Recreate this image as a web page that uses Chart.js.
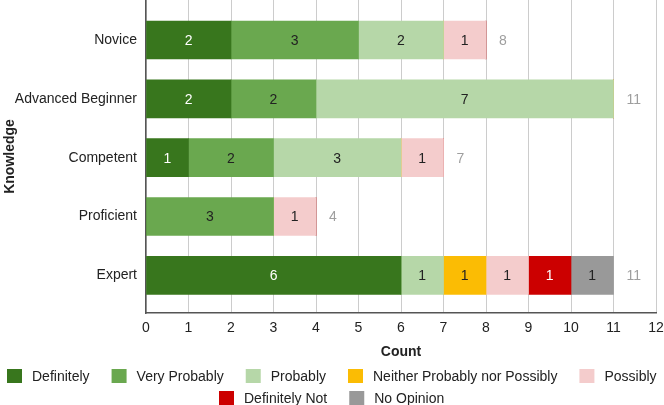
<!DOCTYPE html>
<html>
<head>
<meta charset="utf-8">
<script src="https://cdn.jsdelivr.net/npm/chart.js@4"></script>
<style>
  html, body { margin: 0; padding: 0; background: #fff; }
  #wrap { width: 664px; height: 405px; }
</style>
</head>
<body>
<div id="wrap"><canvas id="knowledgeChart" width="664" height="405"></canvas></div>
<script>
const categories = ['Novice', 'Advanced Beginner', 'Competent', 'Proficient', 'Expert'];

const definitely = [2, 2, 1, 0, 6];
const veryProbably = [3, 2, 2, 3, 0];
const probably = [2, 7, 3, 0, 1];
const neither = [0, 0, 0, 0, 1];
const possibly = [1, 0, 1, 1, 1];
const definitelyNot = [0, 0, 0, 0, 1];
const noOpinion = [0, 0, 0, 0, 1];

const xTicks = [0, 1, 2, 3, 4, 5, 6, 7, 8, 9, 10, 11, 12];

const FONT = '"Liberation Sans", Arial, sans-serif';

function toPoints(values) {
    return values.map((v, i) => ({ x: v, y: i }));
}

const series = [
    { label: 'Definitely', values: definitely, color: '#38761d', text: '#ffffff' },
    { label: 'Very Probably', values: veryProbably, color: '#6aa84f', text: '#222222' },
    { label: 'Probably', values: probably, color: '#b6d7a8', text: '#222222' },
    { label: 'Neither Probably nor Possibly', values: neither, color: '#fbbc04', text: '#222222' },
    { label: 'Possibly', values: possibly, color: '#f4cccc', text: '#222222' },
    { label: 'Definitely Not', values: definitelyNot, color: '#cc0000', text: '#ffffff' },
    { label: 'No Opinion', values: noOpinion, color: '#999999', text: '#222222' }
];

// segment values and totals
const barLabels = {
    id: 'barLabels',
    afterDatasetsDraw(chart) {
        const ctx = chart.ctx;
        ctx.save();
        ctx.font = '14px ' + FONT;
        ctx.textAlign = 'center';
        ctx.textBaseline = 'middle';
        chart.data.datasets.forEach((ds, d) => {
            const meta = chart.getDatasetMeta(d);
            meta.data.forEach((el, i) => {
                const v = series[d].values[i];
                if (!v) return;
                ctx.fillStyle = series[d].text;
                ctx.fillText(String(v), (el.x + el.base) / 2, el.y + 1);
            });
        });
        ctx.textAlign = 'left';
        ctx.fillStyle = '#9e9e9e';
        categories.forEach((c, i) => {
            const total = series.reduce((s, sr) => s + sr.values[i], 0);
            const x = chart.scales.x.getPixelForValue(total);
            const y = chart.scales.y.getPixelForValue(i);
            ctx.fillText(String(total), x + 13, y + 1);
        });
        ctx.restore();
    }
};

// google-style legend, rows centred under the chart
const rowLegend = {
    id: 'rowLegend',
    afterDraw(chart) {
        const ctx = chart.ctx;
        ctx.save();
        ctx.font = '14px ' + FONT;
        ctx.textBaseline = 'middle';
        ctx.textAlign = 'left';
        const gap = 22, box = 15, textOff = 25;
        const items = chart.data.datasets.map(ds => ({
            label: ds.label,
            color: ds.backgroundColor,
            w: textOff + ctx.measureText(ds.label).width
        }));
        const rows = [[]];
        let rowW = 0;
        items.forEach(it => {
            const add = (rows[rows.length - 1].length ? gap : 0) + it.w;
            if (rowW + add > chart.width - 6 && rows[rows.length - 1].length) {
                rows.push([it]);
                rowW = it.w;
            } else {
                rows[rows.length - 1].push(it);
                rowW += add;
            }
        });
        let y = 376;
        rows.forEach(row => {
            const total = row.reduce((s, it) => s + it.w, 0) + gap * (row.length - 1);
            let x = Math.round((chart.width - total) / 2);
            row.forEach(it => {
                ctx.fillStyle = it.color;
                ctx.fillRect(x, y - 7, box, 14);
                ctx.fillStyle = '#222222';
                ctx.fillText(it.label, x + textOff, y + 1);
                x += it.w + gap;
            });
            y += 22;
        });
        ctx.restore();
    }
};

const ctx = document.getElementById('knowledgeChart').getContext('2d');

const knowledgeChart = new Chart(ctx, {
    type: 'bar',
    data: {
        datasets: series.map(s => ({
            label: s.label,
            data: toPoints(s.values),
            backgroundColor: s.color,
            borderWidth: 0,
            barThickness: 38
        }))
    },
    plugins: [barLabels, rowLegend],
    options: {
        indexAxis: 'y',
        responsive: false,
        animation: false,
        layout: { padding: { top: 0, right: 8, bottom: 40, left: 0 } },
        plugins: {
            legend: { display: false },
            tooltip: { enabled: false }
        },
        scales: {
            x: {
                type: 'linear',
                stacked: true,
                min: xTicks[0],
                max: xTicks[xTicks.length - 1],
                afterBuildTicks: s => { s.ticks = xTicks.map(v => ({ value: v })); },
                afterFit: s => {
                    s.height = 52;
                    s.paddingLeft = 0;
                    s.paddingRight = 0;
                },
                ticks: { color: '#222', font: { size: 14, family: FONT }, padding: 7 },
                grid: { color: '#cccccc', drawTicks: false },
                border: { color: '#555555', width: 1.5 },
                title: {
                    display: true,
                    text: 'Count',
                    color: '#222',
                    font: { size: 14, weight: 'bold', family: FONT },
                    padding: { top: 4, bottom: 4 }
                }
            },
            y: {
                type: 'linear',
                stacked: true,
                reverse: true,
                offset: false,
                min: -0.68,
                max: 4.64,
                afterBuildTicks: s => { s.ticks = categories.map((c, i) => ({ value: i })); },
                afterFit: s => {
                    s.width = 146;
                    s.paddingTop = 0;
                    s.paddingBottom = 0;
                },
                ticks: {
                    color: '#222',
                    font: { size: 14, family: FONT },
                    padding: 9,
                    callback: v => categories[v] || ''
                },
                grid: { display: false, drawTicks: false, offset: false },
                border: { color: '#555555', width: 1.5 },
                title: {
                    display: true,
                    text: 'Knowledge',
                    color: '#222',
                    font: { size: 14, weight: 'bold', family: FONT },
                    padding: { top: 2, bottom: 0 }
                }
            }
        }
    }
});
</script>
</body>
</html>
